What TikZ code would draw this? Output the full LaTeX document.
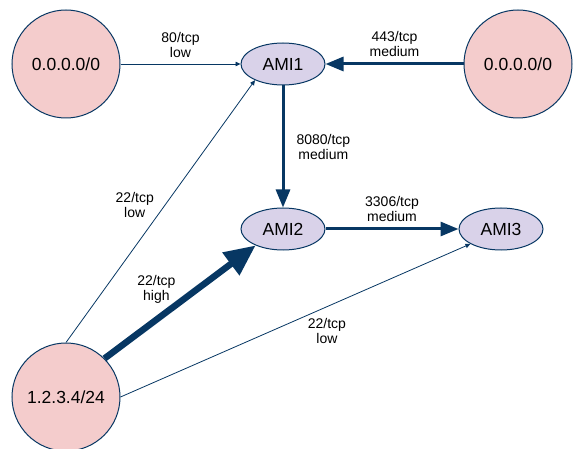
\documentclass[tikz,border=0pt]{standalone}
\usepackage{fontspec}
\setmainfont{Liberation Sans}
\usetikzlibrary{arrows.meta,positioning,shapes.geometric}
\definecolor{NetLine}{HTML}{073763}
\definecolor{NetPink}{HTML}{F4CCCC}
\definecolor{AmiLilac}{HTML}{D9D2E9}

\begin{document}
\begin{tikzpicture}[x=1pt,y=-1pt]
    \tikzset{net/.style={circle,draw=NetLine,fill=NetPink,line width=1pt,minimum size=108pt,font=\fontsize{17.5}{20}\selectfont},
      ami/.style={ellipse,draw=NetLine,fill=AmiLilac,line width=1pt,minimum width=84pt,minimum height=42pt,inner sep=0pt,font=\fontsize{17.5}{20}\selectfont},
      lbl/.style={text=black,font=\fontsize{14}{15}\selectfont,align=center,inner sep=0pt},
      lowrisk/.style={-{Triangle[length=5pt,width=4.5pt]},NetLine,line width=0.8pt},
      medrisk/.style={-{Triangle[length=18pt,width=14pt]},NetLine,line width=3pt},
      highrisk/.style={-{Triangle[length=31pt,width=27pt]},NetLine,line width=6.5pt}}
    \useasboundingbox (0,0) rectangle (573,449);
    \node[net] (net1) at (66,64) {0.0.0.0/0};
    \node[net] (net2) at (518,64) {0.0.0.0/0};
    \node[net] (net3) at (66,397) {1.2.3.4/24};
    \node[ami] (ami1) at (283,64) {AMI1};
    \node[ami] (ami2) at (283,229) {AMI2};
    \node[ami] (ami3) at (501,229) {AMI3};
    \draw[lowrisk] (net1)-- node[lbl,above=6pt]{80/tcp\\low} (ami1);
    \draw[medrisk] (net2)-- node[lbl,above=6pt]{443/tcp\\medium} (ami1);
    \draw[medrisk] (ami1)-- node[lbl,right=12pt]{8080/tcp\\medium} (ami2);
    \draw[medrisk] (ami2)-- node[lbl,above=6pt]{3306/tcp\\medium} (ami3);
    \draw[lowrisk] (net3.north)-- node[lbl,pos=0.525,left=11pt]{22/tcp\\low} (ami1.210);
    \draw[highrisk] (net3.45)-- node[lbl,pos=0.61,left=18pt]{22/tcp\\high} (ami2.211);
    \draw[lowrisk] (net3.east)-- node[lbl,pos=0.59,below=11pt]{22/tcp\\low} (ami3.206);
  \end{tikzpicture}
\end{document}
